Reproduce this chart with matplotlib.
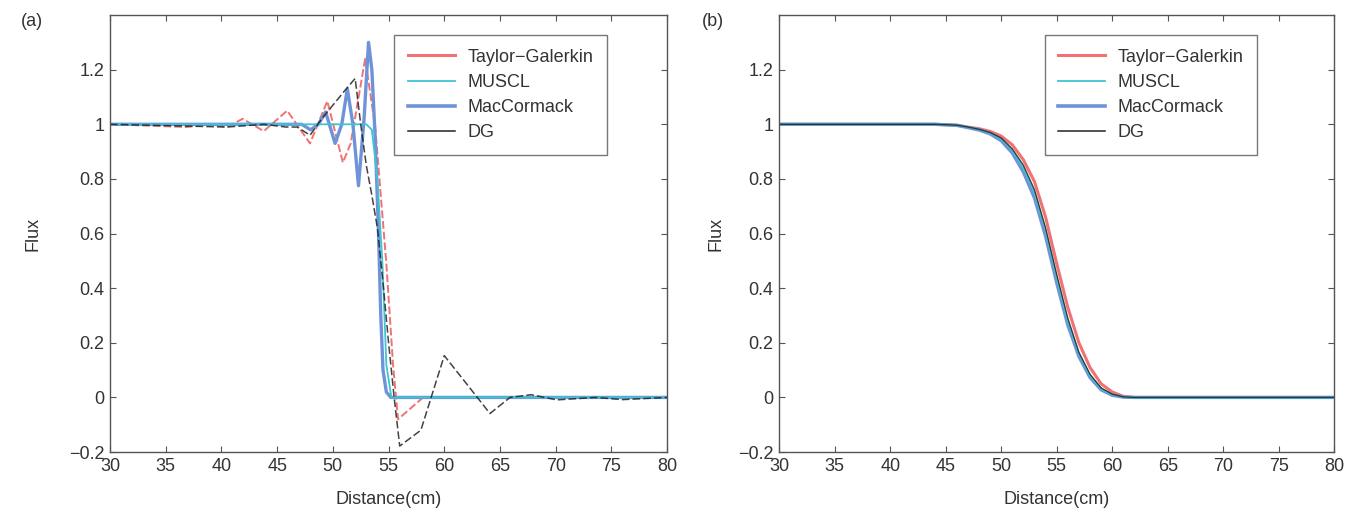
"""Flux profiles near a shock: four numerical schemes, (a) raw and (b) smoothed."""

import matplotlib

matplotlib.use("Agg")
import matplotlib.pyplot as plt
from matplotlib.lines import Line2D

plt.rcParams["font.family"] = ["Liberation Sans", "DejaVu Sans"]

# ---- panel (a) data -------------------------------------------------------
tg_a_x = [30, 36.9, 38.9, 40.5, 41.9, 43.8, 45.9, 47.95, 49.5, 50.9, 51.6,
          52.9, 53.8, 54.8, 55.4, 55.85, 58.1, 80]
tg_a_y = [1.0, 0.99, 1.0, 0.99, 1.02, 0.975, 1.05, 0.93, 1.085, 0.86, 0.93,
          1.24, 0.99, 0.49, 0.12, -0.08, 0.0, 0.0]

muscl_a_x = [30, 53.0, 53.5, 54.0, 54.45, 54.8, 55.25, 80]
muscl_a_y = [1.0, 1.0, 0.98, 0.8, 0.49, 0.12, 0.0, 0.0]

mac_a_x = [30, 46.0, 47.2, 48.0, 48.7, 49.35, 50.2, 50.8, 51.3, 51.8, 52.3,
           52.8, 53.2, 53.5, 53.8, 54.1, 54.3, 54.5, 54.8, 55.2, 80]
mac_a_y = [1.0, 1.0, 1.0, 0.98, 1.0, 1.045, 0.93, 1.0, 1.13, 1.0, 0.775,
           1.02, 1.30, 1.2, 0.95, 0.6, 0.3, 0.1, 0.02, 0.0, 0.0]

dg_a_x = [30, 40.5, 43.8, 45.8, 46.8, 47.95, 49.0, 50.0, 51.0, 52.0, 52.5,
          53.0, 53.5, 54.0, 54.5, 55.0, 55.5, 56.0, 57.9, 60.0, 62.0, 64.1,
          65.9, 67.8, 70.1, 73.6, 76.0, 80]
dg_a_y = [1.0, 0.99, 1.0, 0.99, 0.99, 0.96, 1.02, 1.07, 1.12, 1.168, 1.0,
          0.85, 0.74, 0.62, 0.42, 0.2, 0.0, -0.178, -0.12, 0.153, 0.05, -0.059,
          0.0, 0.01, -0.009, 0.0, -0.008, 0.0]

# ---- panel (b) data -------------------------------------------------------
dist_b = [30, 44, 46, 47, 48, 49, 50, 51, 52, 53, 54, 55, 56, 57, 58, 59,
          60, 61, 62, 65, 80]
tg_b = [1, 1, 0.997, 0.99, 0.984, 0.974, 0.957, 0.925, 0.87, 0.79, 0.66,
        0.49, 0.33, 0.2, 0.11, 0.05, 0.02, 0.004, 0, 0, 0]
muscl_b = [1, 1, 0.997, 0.99, 0.982, 0.968, 0.947, 0.905, 0.84, 0.75, 0.61,
           0.44, 0.28, 0.16, 0.08, 0.032, 0.01, 0.002, 0, 0, 0]
mac_b = [1, 1, 0.996, 0.988, 0.979, 0.965, 0.94, 0.895, 0.825, 0.73, 0.59,
         0.42, 0.265, 0.15, 0.073, 0.028, 0.008, 0.001, 0, 0, 0]
dg_b = [1, 1, 0.997, 0.99, 0.982, 0.97, 0.95, 0.91, 0.85, 0.76, 0.62,
        0.45, 0.29, 0.165, 0.085, 0.035, 0.012, 0.002, 0, 0, 0]

labels = ["Taylor\u2212Galerkin", "MUSCL", "MacCormack", "DG"]
x_ticks = [30, 35, 40, 45, 50, 55, 60, 65, 70, 75, 80]
y_ticks = [-0.2, 0, 0.2, 0.4, 0.6, 0.8, 1, 1.2]
y_tick_labels = ["\u22120.2", "0", "0.2", "0.4", "0.6", "0.8", "1", "1.2"]

C_TG = "#f07272"
C_MUSCL = "#3fc4d4"
C_MAC = "#6f93d8"
C_DG = "#222222"
TXT = "#333333"

fig = plt.figure(figsize=(13.67, 5.19), dpi=100)
ax_a = fig.add_axes([0.0805, 0.129, 0.4075, 0.842])
ax_b = fig.add_axes([0.570, 0.129, 0.406, 0.842])

# panel (a)
ax_a.plot(tg_a_x, tg_a_y, color=C_TG, lw=1.4, ls=(0, (4, 1.5)))
ax_a.plot(mac_a_x, mac_a_y, color=C_MAC, lw=2.4)
ax_a.plot(muscl_a_x, muscl_a_y, color=C_MUSCL, lw=1.3)
ax_a.plot(dg_a_x, dg_a_y, color=C_DG, lw=1.1, ls=(0, (5, 2)), alpha=0.85)

# panel (b)
ax_b.plot(dist_b, tg_b, color=C_TG, lw=2.2)
ax_b.plot(dist_b, mac_b, color=C_MAC, lw=2.4)
ax_b.plot(dist_b, muscl_b, color=C_MUSCL, lw=1.3)
ax_b.plot(dist_b, dg_b, color=C_DG, lw=1.0, alpha=0.85)

handles = [
    Line2D([], [], color=C_TG, lw=2.2),
    Line2D([], [], color=C_MUSCL, lw=1.3),
    Line2D([], [], color=C_MAC, lw=2.6),
    Line2D([], [], color=C_DG, lw=1.1),
]

panels = (
    (ax_a, "(a)", 0.892, -0.16, 20),
    (ax_b, "(b)", 0.861, -0.14, 10),
)
for ax, tag, leg_x, tag_x, ypad in panels:
    ax.set_xlim(30, 80)
    ax.set_ylim(-0.2, 1.4)
    ax.set_xticks(x_ticks)
    ax.set_yticks(y_ticks)
    ax.set_yticklabels(y_tick_labels)
    ax.tick_params(direction="in", top=True, right=True, length=4,
                   width=0.8, color="#555555", labelsize=13,
                   labelcolor=TXT, pad=4)
    for s in ax.spines.values():
        s.set_color("#555555")
        s.set_linewidth(1.0)
    ax.set_xlabel("Distance(cm)", fontsize=13, color=TXT, labelpad=12)
    ax.set_ylabel("Flux", fontsize=13, color=TXT, labelpad=ypad)
    leg = ax.legend(handles, labels, loc="upper right",
                    bbox_to_anchor=(leg_x, 0.954), borderaxespad=0,
                    fontsize=13, frameon=True, fancybox=False,
                    handlelength=2.6, handletextpad=0.7, labelspacing=0.45,
                    borderpad=0.75)
    leg.get_frame().set_edgecolor("#555555")
    leg.get_frame().set_linewidth(1.0)
    for t in leg.get_texts():
        t.set_color(TXT)
    # panel tag sits left of the axes, just above the top spine
    ax.text(tag_x, 0.985, tag, transform=ax.transAxes, fontsize=13,
            color=TXT, ha="left", va="center")

fig.savefig("out.png", dpi=100)
plt.close(fig)
